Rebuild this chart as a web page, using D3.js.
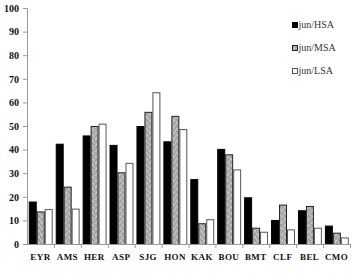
<!DOCTYPE html>
<html><head><meta charset="utf-8">
<script src="https://cdn.jsdelivr.net/npm/d3@7"></script>
<style>body{margin:0;background:#fff}svg{display:block}</style>
</head><body>
<script>
const categories = ["EYR","AMS","HER","ASP","SJG","HON","KAK","BOU","BMT","CLF","BEL","CMO"];
const seriesNames = ["jun/HSA","jun/MSA","jun/LSA"];
const hsa = [18,42.5,46,42,50,43.5,27.5,40.3,19.8,10.2,14.3,7.8];
const msa = [13.8,24.3,50,30.4,56,54.3,8.8,38,6.9,16.7,16.1,4.8];
const lsa = [14.8,15,51,34.4,64.3,48.7,10.5,31.6,5.2,6.2,6.9,2.8];
const yTicks = [0,10,20,30,40,50,60,70,80,90,100];

const W=354,H=273;
const svg=d3.select("body").append("svg").attr("width",W).attr("height",H);
const defs=svg.append("defs");
const pat=defs.append("pattern").attr("id","stip").attr("patternUnits","userSpaceOnUse").attr("width",6).attr("height",6);
pat.append("rect").attr("width",6).attr("height",6).attr("fill","#b0b0b0");
const dots=[[0,0,"#d4d4d4"],[3,0,"#8c8c8c"],[5,1,"#cccccc"],[1,1,"#9a9a9a"],[2,2,"#c8c8c8"],[4,2,"#939393"],
 [0,3,"#8f8f8f"],[3,3,"#d0d0d0"],[5,4,"#999999"],[1,4,"#c4c4c4"],[2,5,"#959595"],[4,5,"#cdcdcd"]];
dots.forEach(([px,py,c])=>pat.append("rect").attr("x",px).attr("y",py).attr("width",1).attr("height",1).attr("fill",c));

const x0=27,x1=350,y0=244,y1=8;
const x=d3.scaleBand().domain(categories).range([x0,x1]).paddingInner(0).paddingOuter(0);
const y=d3.scaleLinear().domain([0,100]).range([y0,y1]);
const sub=d3.scaleBand().domain(seriesNames).range([1.8,x.bandwidth()-1.2]);

const data=[hsa,msa,lsa];
const fills=["#000","url(#stip)","#fff"];
const strokes=["#000","#222","#555"];
seriesNames.forEach((s,si)=>{
  svg.append("g").selectAll("rect").data(categories).join("rect")
    .attr("x",c=>x(c)+sub(s)+0.5)
    .attr("y",(c,i)=>y(data[si][i])+0.5)
    .attr("width",sub.bandwidth()-1)
    .attr("height",(c,i)=>y0-y(data[si][i]))
    .attr("fill",fills[si]).attr("stroke",strokes[si]).attr("stroke-width",1);
});

// y axis
const ya=svg.append("g").attr("transform",`translate(${x0},0)`)
  .call(d3.axisLeft(y).tickValues(yTicks).tickSize(4).tickPadding(4));
ya.select(".domain").attr("stroke","#999");
ya.selectAll(".tick line").attr("stroke","#999");
ya.selectAll("text").attr("font-family","Liberation Serif").attr("font-weight","bold").attr("font-size",10).attr("fill","#111");

// x axis
const xa=svg.append("g").attr("transform",`translate(0,${y0})`)
  .call(d3.axisBottom(x).tickSize(0).tickPadding(10));
xa.select(".domain").attr("stroke","#999");
xa.selectAll("text").attr("font-family","Liberation Serif").attr("font-weight","bold").attr("font-size",9).attr("fill","#111").attr("letter-spacing","0.4");
svg.append("g").selectAll("line").data(categories).join("line")
  .attr("x1",(c,i)=>x0+x.step()*(i+1)+0.5).attr("x2",(c,i)=>x0+x.step()*(i+1)+0.5)
  .attr("y1",y0).attr("y2",y0+4).attr("stroke","#999");

// legend
const lg=svg.append("g");
seriesNames.forEach((s,i)=>{
  const ly=25+i*23;
  lg.append("rect").attr("x",292.5).attr("y",ly-2.5).attr("width",5).attr("height",5)
    .attr("fill",fills[i]).attr("stroke",strokes[i]).attr("stroke-width",1);
  lg.append("text").attr("x",298.5).attr("y",ly+3).text(s)
    .attr("font-family","Liberation Serif").attr("font-size",10).attr("fill","#333");
});
</script>
</body></html>
